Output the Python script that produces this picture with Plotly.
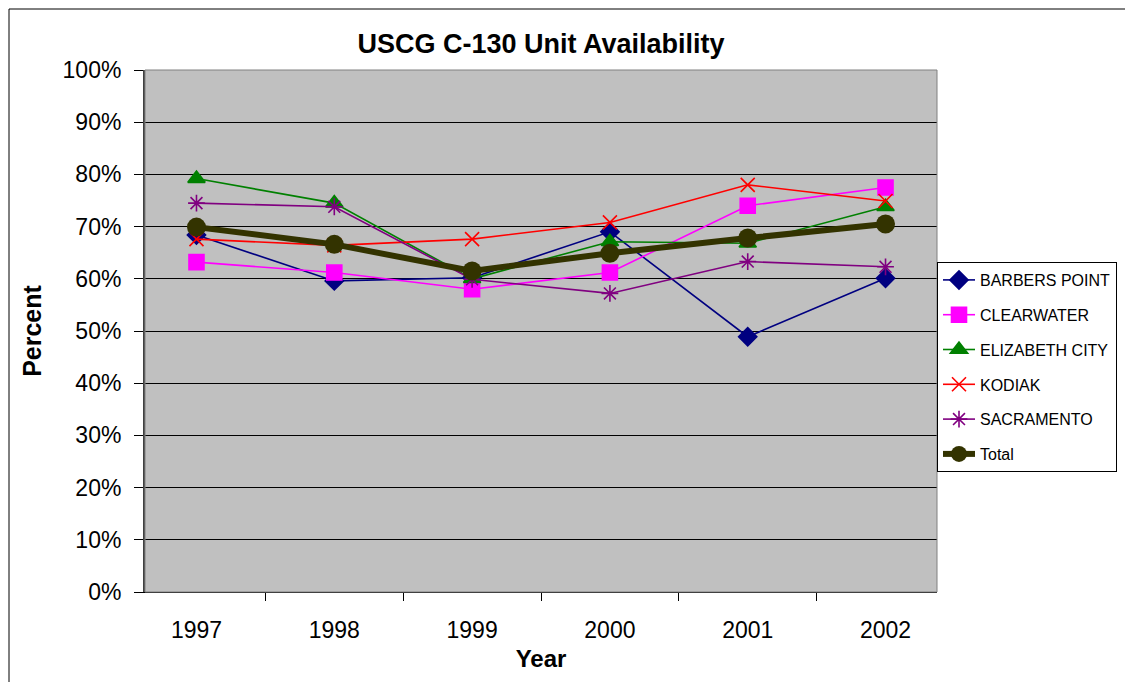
import plotly.graph_objs as go

### Data
years = ["1997", "1998", "1999", "2000", "2001", "2002"]

barbers_point = [0.684, 0.596, 0.602, 0.690, 0.489, 0.601]
clearwater = [0.632, 0.612, 0.580, 0.612, 0.740, 0.775]
elizabeth_city = [0.792, 0.745, 0.600, 0.671, 0.668, 0.738]
kodiak = [0.676, 0.664, 0.676, 0.708, 0.780, 0.749]
sacramento = [0.745, 0.738, 0.599, 0.572, 0.633, 0.623]
total = [0.699, 0.666, 0.615, 0.649, 0.678, 0.705]

series = [
    ("BARBERS POINT", barbers_point, "#000080", "diamond", 14),
    ("CLEARWATER", clearwater, "#FF00FF", "square", 15),
    ("ELIZABETH CITY", elizabeth_city, "#008000", "triangle-up", 15),
    ("KODIAK", kodiak, "#FF0000", "x-thin-open", 14),
    ("SACRAMENTO", sacramento, "#800080", "asterisk-open", 14),
]

fig = go.Figure()

for name, vals, color, sym, size in series:
    fig.add_trace(go.Scatter(
        x=years, y=vals, name=name, legendgroup=name, mode="lines+markers",
        line=dict(color=color, width=1.6),
        marker=dict(symbol=sym, size=size, color=color,
                    line=dict(color=color, width=1.6)),
    ))

fig.add_trace(go.Scatter(
    x=years, y=total, name="Total", legendgroup="Total", mode="lines+markers",
    line=dict(color="#333300", width=6),
    marker=dict(symbol="circle", size=19, color="#333300"),
))

font = "Liberation Sans, Arial, sans-serif"

# page body has an 8px margin, so the figure is a bit smaller than the window
W, H = 1125, 674
ml, mt = 137, 62
pw, ph = 792, 522

fig.update_layout(
    width=W, height=H,
    margin=dict(l=ml, r=W - ml - pw, t=mt, b=H - mt - ph),
    paper_bgcolor="white",
    plot_bgcolor="#C0C0C0",
    font=dict(family=font, color="black", size=23),
    title=dict(text="<b>USCG C-130 Unit Availability</b>", x=0.5, xref="paper",
               y=1 - 36 / H, yref="container", yanchor="middle",
               font=dict(size=27)),
    xaxis=dict(
        type="category", tickson="boundaries", ticks="outside", ticklen=8,
        tickcolor="black", showgrid=False, showline=True, linecolor="black",
        ticklabelstandoff=17,
        title=dict(text="<b>Year</b>", standoff=8, font=dict(size=24)),
        tickfont=dict(size=23),
    ),
    yaxis=dict(
        range=[0, 1], dtick=0.1, tickformat=".0%", ticks="outside", ticklen=9,
        tickcolor="black", showgrid=True, gridcolor="black", gridwidth=1,
        showline=True, linecolor="#404040", linewidth=2, zeroline=False,
        ticklabelstandoff=8,
        title=dict(text="<b>Percent</b>", standoff=14, font=dict(size=25)),
        tickfont=dict(size=23),
    ),
    legend=dict(
        x=1.0, xanchor="left", y=(592 - 262) / ph, yanchor="top",
        bordercolor="black", borderwidth=1, bgcolor="white",
        font=dict(size=16, family=font), tracegroupgap=11,
        itemwidth=32,
    ),
    showlegend=True,
)

# plot area border and chart border
fig.add_shape(type="rect", xref="paper", yref="paper", x0=0, x1=1, y0=0, y1=1,
              line=dict(color="#808080", width=1), layer="above")
fig.add_shape(type="rect", xref="paper", yref="paper",
              x0=-136 / pw, x1=1.5, y0=-0.3, y1=(592 - 9) / ph,
              line=dict(color="black", width=1))

fig.write_html("out.html")
